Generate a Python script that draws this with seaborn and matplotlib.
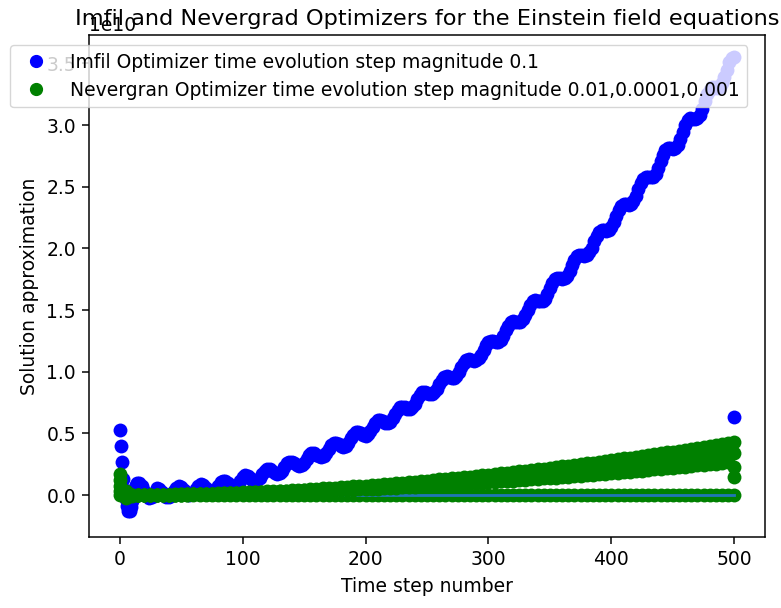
import matplotlib
matplotlib.use("Agg")
import matplotlib.pyplot as plt
import seaborn as sns
import numpy as np
from matplotlib.lines import Line2D

# ---------------- text ----------------
title = "Imfil and Nevergrad Optimizers for the Einstein field equations"
xlabel = "Time step number"
ylabel = "Solution approximation"
imfil_label = "Imfil Optimizer time evolution step magnitude 0.1"
nevergrad_label = "Nevergran Optimizer time evolution step magnitude 0.01,0.0001,0.001"

# ---------------- data (values in units of 1e10) ----------------
imfil_steps = list(range(0, 15)) + list(range(16, 501, 2))
imfil_values = [
    # steps 0..14
    0.53, 0.40, 0.27, 0.13, 0.04, -0.03, -0.09, -0.13, -0.13, -0.10, -0.05, 0.00, 0.05, 0.08, 0.095,
    # steps 16..28
    0.095, 0.075, 0.035, -0.005, -0.025, -0.015, 0.020,
    # steps 30..98
    0.055, 0.048, 0.025, 0.000, -0.017, -0.015, 0.005, 0.034, 0.060, 0.071,
    0.064, 0.043, 0.018, 0.003, 0.005, 0.016, 0.046, 0.073, 0.086, 0.080,
    0.059, 0.036, 0.021, 0.025, 0.046, 0.077, 0.105, 0.118, 0.114, 0.094,
    0.071, 0.058, 0.063, 0.085, 0.117,
    # steps 100..198
    0.147, 0.160, 0.158, 0.142, 0.124, 0.114, 0.120, 0.141, 0.170, 0.197,
    0.211, 0.210, 0.195, 0.178, 0.169, 0.176, 0.198, 0.229, 0.257, 0.272,
    0.271, 0.258, 0.241, 0.234, 0.241, 0.264, 0.296, 0.325, 0.341, 0.341,
    0.328, 0.313, 0.307, 0.315, 0.339, 0.372, 0.402, 0.420, 0.421, 0.410,
    0.395, 0.390, 0.400, 0.425, 0.459, 0.490, 0.508, 0.511, 0.500, 0.487,
    # steps 200..298
    0.482, 0.493, 0.519, 0.555, 0.587, 0.606, 0.610, 0.600, 0.588, 0.584,
    0.596, 0.623, 0.660, 0.693, 0.714, 0.718, 0.710, 0.699, 0.697, 0.710,
    0.738, 0.776, 0.810, 0.832, 0.837, 0.830, 0.820, 0.819, 0.833, 0.862,
    0.900, 0.936, 0.959, 0.965, 0.959, 0.950, 0.950, 0.966, 0.996, 1.036,
    1.072, 1.096, 1.104, 1.098, 1.090, 1.091, 1.108, 1.139, 1.180, 1.217,
    # steps 300..398
    1.242, 1.251, 1.247, 1.241, 1.243, 1.260, 1.293, 1.335, 1.374, 1.400,
    1.410, 1.407, 1.402, 1.405, 1.424, 1.457, 1.501, 1.542, 1.570, 1.580,
    1.577, 1.571, 1.574, 1.593, 1.630, 1.676, 1.718, 1.748, 1.759, 1.758,
    1.752, 1.756, 1.777, 1.815, 1.862, 1.907, 1.939, 1.950, 1.948, 1.941,
    1.945, 1.967, 2.007, 2.058, 2.104, 2.136, 2.149, 2.148, 2.142, 2.147,
    # steps 400..500
    2.170, 2.212, 2.263, 2.314, 2.347, 2.361, 2.359, 2.353, 2.358, 2.382,
    2.425, 2.480, 2.531, 2.565, 2.580, 2.579, 2.575, 2.581, 2.607, 2.651,
    2.707, 2.761, 2.798, 2.813, 2.811, 2.805, 2.812, 2.839, 2.885, 2.944,
    2.999, 3.037, 3.054, 3.053, 3.049, 3.056, 3.084, 3.132, 3.192, 3.248,
    3.287, 3.305, 3.306, 3.302, 3.311, 3.340, 3.389, 3.450, 3.508, 3.540,
    3.550,
]
imfil_extra_steps = [500]
imfil_extra_values = [0.63]

nevergrad_steps = list(range(0, 501, 5))
nevergrad_a = [
    0.17, 0.03, 0.000, 0.001, 0.001, 0.002, 0.002, 0.003, 0.004, 0.005, 0.006,
    0.007, 0.008, 0.009, 0.011, 0.012, 0.014, 0.016, 0.017, 0.019, 0.021,
    0.023, 0.025, 0.028, 0.030, 0.032, 0.035, 0.037, 0.040, 0.042, 0.045,
    0.048, 0.051, 0.054, 0.057, 0.060, 0.064, 0.067, 0.070, 0.074, 0.077,
    0.081, 0.085, 0.089, 0.093, 0.097, 0.101, 0.105, 0.109, 0.113, 0.118,
    0.122, 0.127, 0.131, 0.136, 0.141, 0.145, 0.150, 0.155, 0.160, 0.165,
    0.171, 0.176, 0.181, 0.187, 0.192, 0.198, 0.204, 0.209, 0.215, 0.221,
    0.227, 0.233, 0.239, 0.245, 0.251, 0.257, 0.264, 0.270, 0.277, 0.283,
    0.290, 0.297, 0.303, 0.310, 0.317, 0.324, 0.332, 0.339, 0.346, 0.353,
    0.361, 0.368, 0.375, 0.383, 0.391, 0.398, 0.406, 0.414, 0.422, 0.430,
]
nevergrad_b = [
    0.12, 0.01, 0.000, 0.001, 0.001, 0.001, 0.002, 0.003, 0.003, 0.004, 0.005,
    0.006, 0.007, 0.008, 0.009, 0.011, 0.012, 0.013, 0.015, 0.017, 0.018,
    0.020, 0.022, 0.024, 0.026, 0.028, 0.030, 0.032, 0.034, 0.037, 0.039,
    0.041, 0.044, 0.047, 0.049, 0.052, 0.055, 0.058, 0.061, 0.064, 0.067,
    0.070, 0.073, 0.076, 0.080, 0.083, 0.087, 0.090, 0.094, 0.097, 0.101,
    0.105, 0.109, 0.113, 0.117, 0.121, 0.125, 0.129, 0.134, 0.138, 0.142,
    0.147, 0.151, 0.156, 0.161, 0.165, 0.170, 0.175, 0.180, 0.185, 0.190,
    0.195, 0.200, 0.205, 0.211, 0.216, 0.222, 0.227, 0.232, 0.238, 0.244,
    0.250, 0.255, 0.261, 0.267, 0.273, 0.279, 0.285, 0.291, 0.298, 0.304,
    0.310, 0.317, 0.323, 0.329, 0.336, 0.343, 0.350, 0.356, 0.363, 0.340,
]
nevergrad_c = [
    0.07, -0.01, 0.000, 0.000, 0.001, 0.001, 0.002, 0.002, 0.003, 0.004, 0.004,
    0.005, 0.006, 0.007, 0.008, 0.009, 0.010, 0.012, 0.013, 0.014, 0.016,
    0.017, 0.019, 0.021, 0.022, 0.024, 0.026, 0.028, 0.030, 0.032, 0.034,
    0.036, 0.038, 0.040, 0.043, 0.045, 0.047, 0.050, 0.052, 0.055, 0.058,
    0.060, 0.063, 0.066, 0.069, 0.072, 0.075, 0.078, 0.081, 0.084, 0.088,
    0.091, 0.094, 0.098, 0.101, 0.105, 0.108, 0.112, 0.116, 0.119, 0.123,
    0.127, 0.131, 0.135, 0.139, 0.143, 0.147, 0.151, 0.156, 0.160, 0.164,
    0.169, 0.173, 0.178, 0.182, 0.187, 0.192, 0.196, 0.201, 0.206, 0.211,
    0.216, 0.221, 0.226, 0.231, 0.236, 0.241, 0.247, 0.252, 0.257, 0.263,
    0.268, 0.274, 0.279, 0.285, 0.291, 0.296, 0.302, 0.308, 0.314, 0.230,
]
nevergrad_d = [
    0.03, -0.02, -0.005, 0.000, 0.001, 0.001, 0.001, 0.002, 0.002, 0.003, 0.004,
    0.004, 0.005, 0.006, 0.007, 0.008, 0.009, 0.010, 0.011, 0.012, 0.013,
    0.015, 0.016, 0.017, 0.019, 0.020, 0.022, 0.023, 0.025, 0.027, 0.028,
    0.030, 0.032, 0.034, 0.036, 0.038, 0.040, 0.042, 0.044, 0.046, 0.049,
    0.051, 0.053, 0.056, 0.058, 0.061, 0.063, 0.066, 0.068, 0.071, 0.074,
    0.077, 0.079, 0.082, 0.085, 0.088, 0.091, 0.094, 0.097, 0.101, 0.104,
    0.107, 0.110, 0.114, 0.117, 0.121, 0.124, 0.128, 0.131, 0.135, 0.139,
    0.142, 0.146, 0.150, 0.154, 0.158, 0.162, 0.166, 0.170, 0.174, 0.178,
    0.182, 0.186, 0.190, 0.195, 0.199, 0.204, 0.208, 0.213, 0.217, 0.222,
    0.226, 0.231, 0.236, 0.240, 0.245, 0.250, 0.255, 0.260, 0.265, 0.150,
]
nevergrad_flat = [0.0] * 101
reference_steps = [0, 500]
reference_values = [0.0, 0.0]

for name, arr, xs in [("imfil", imfil_values, imfil_steps), ("a", nevergrad_a, nevergrad_steps),
                      ("b", nevergrad_b, nevergrad_steps), ("c", nevergrad_c, nevergrad_steps),
                      ("d", nevergrad_d, nevergrad_steps)]:
    if len(arr) != len(xs):
        print("LENGTH MISMATCH", name, len(arr), len(xs))

SCALE = 1e10
BLUE = "#0000ff"
GREEN = "#008000"
LINE = "#1f77b4"
MS = 100
K = 1.35  # size factor of the original rendering

plt.rcParams.update({
    "axes.linewidth": 0.8 * K,
    "xtick.major.size": 3.5 * K, "ytick.major.size": 3.5 * K,
    "xtick.major.width": 0.8 * K, "ytick.major.width": 0.8 * K,
    "xtick.major.pad": 3.5 * K, "ytick.major.pad": 3.5 * K,
    "axes.labelpad": 4.0 * K,
    "font.size": 10 * K,
})

fig = plt.figure(figsize=(7.81, 6.08), dpi=100)
ax = fig.add_axes([89 / 781, 71 / 608, 676 / 781, 502 / 608])


def scat(xs, ys, color, z):
    sns.scatterplot(x=xs, y=np.asarray(ys) * SCALE, color=color, s=MS,
                    linewidth=0, ax=ax, zorder=z, legend=False)


scat(imfil_steps, imfil_values, BLUE, 1.0)
scat(imfil_extra_steps, imfil_extra_values, BLUE, 1.0)
scat(nevergrad_steps, nevergrad_flat, GREEN, 1.1)
sns.lineplot(x=reference_steps, y=np.asarray(reference_values) * SCALE, color=LINE,
             linewidth=1.5 * K, ax=ax, zorder=1.2)
for series in (nevergrad_d, nevergrad_c, nevergrad_b, nevergrad_a):
    scat(nevergrad_steps, series, GREEN, 1.3)

ax.set_xlim(-25, 525)
ax.set_ylim(-0.34 * SCALE, 3.73 * SCALE)
ax.set_xticks([0, 100, 200, 300, 400, 500])
ax.set_yticks([0, 0.5e10, 1.0e10, 1.5e10, 2.0e10, 2.5e10, 3.0e10, 3.5e10])
ax.tick_params(labelsize=10 * K)
ax.yaxis.get_offset_text().set_fontsize(10 * K)
ax.set_xlabel(xlabel, fontsize=10 * K)
ax.set_ylabel(ylabel, fontsize=10 * K)
ax.set_title(title, fontsize=12 * K, y=1 + 10 / 502, pad=0)

handles = [Line2D([], [], marker="o", color=BLUE, linestyle="None", markersize=8.5),
           Line2D([], [], marker="o", color=GREEN, linestyle="None", markersize=8.5)]
ax.legend(handles, [imfil_label, nevergrad_label], loc="upper left",
          bbox_to_anchor=(10 / 781, 1 - 45 / 608), bbox_transform=fig.transFigure,
          borderaxespad=0, fontsize=10 * K)

fig.savefig("out.png", dpi=100)
